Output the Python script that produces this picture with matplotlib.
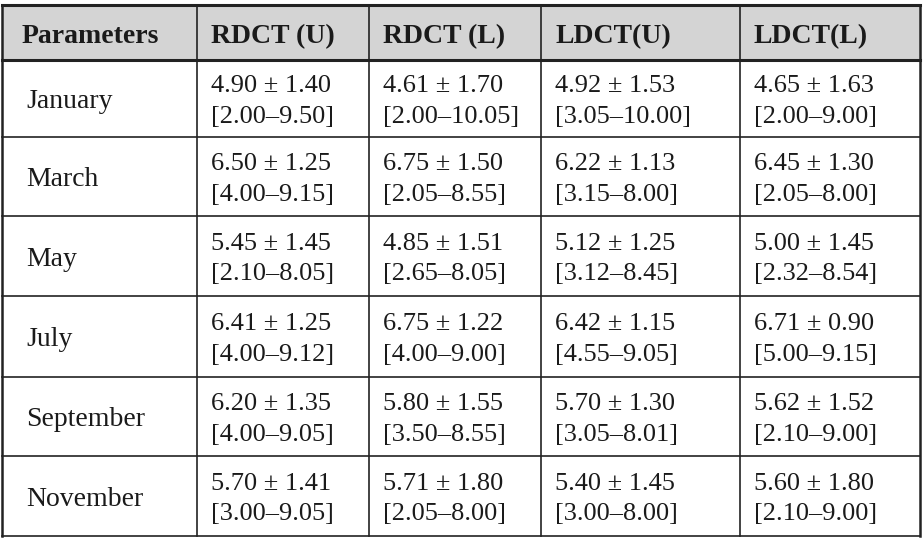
import matplotlib.pyplot as plt

headers = ["Parameters", "RDCT (U)", "RDCT (L)", "LDCT(U)", "LDCT(L)"]
months = ["January", "March", "May", "July", "September", "November"]
means = [
    ["4.90 ± 1.40", "4.61 ± 1.70", "4.92 ± 1.53", "4.65 ± 1.63"],
    ["6.50 ± 1.25", "6.75 ± 1.50", "6.22 ± 1.13", "6.45 ± 1.30"],
    ["5.45 ± 1.45", "4.85 ± 1.51", "5.12 ± 1.25", "5.00 ± 1.45"],
    ["6.41 ± 1.25", "6.75 ± 1.22", "6.42 ± 1.15", "6.71 ± 0.90"],
    ["6.20 ± 1.35", "5.80 ± 1.55", "5.70 ± 1.30", "5.62 ± 1.52"],
    ["5.70 ± 1.41", "5.71 ± 1.80", "5.40 ± 1.45", "5.60 ± 1.80"],
]
ranges = [
    ["[2.00–9.50]", "[2.00–10.05]", "[3.05–10.00]", "[2.00–9.00]"],
    ["[4.00–9.15]", "[2.05–8.55]", "[3.15–8.00]", "[2.05–8.00]"],
    ["[2.10–8.05]", "[2.65–8.05]", "[3.12–8.45]", "[2.32–8.54]"],
    ["[4.00–9.12]", "[4.00–9.00]", "[4.55–9.05]", "[5.00–9.15]"],
    ["[4.00–9.05]", "[3.50–8.55]", "[3.05–8.01]", "[2.10–9.00]"],
    ["[3.00–9.05]", "[2.05–8.00]", "[3.00–8.00]", "[2.10–9.00]"],
]

W, H = 924, 538
col_x = [2, 197, 369, 541, 740, 920]
row_y = [5, 60, 137, 216, 296, 377, 456, 536]

fig = plt.figure(figsize=(W / 100, H / 100), dpi=100)
ax = fig.add_axes([0, 0, 1, 1])
ax.set_xlim(0, W)
ax.set_ylim(H, 0)
ax.axis("off")
font = dict(family="Liberation Serif", fontsize=19, color="#1a1a1a")

ax.fill_between([col_x[0], col_x[-1]], row_y[0], row_y[1], color="#d4d4d4", zorder=0)
for x in col_x:
    ax.plot([x, x], [row_y[0], row_y[-1]], color="#222222", lw=1.2 if x not in (2, 920) else 1.8)
for i, y in enumerate(row_y):
    ax.plot([col_x[0], col_x[-1]], [y, y], color="#222222", lw=2.2 if i in (0, 1) else 1.2)

for j, h in enumerate(headers):
    ax.text(col_x[j] + (20 if j == 0 else 14), (row_y[0] + row_y[1]) / 2 + 1, h,
            va="center_baseline", ha="left", fontweight="bold",
            **{**font, "fontsize": 20})
for i, m in enumerate(months):
    yc = (row_y[i + 1] + row_y[i + 2]) / 2
    ax.text(col_x[0] + 24, yc, m, va="center_baseline", ha="left",
            **{**font, "fontsize": 20})
    for j in range(4):
        ax.text(col_x[j + 1] + 14, yc - 15, means[i][j], va="center_baseline", ha="left", **font)
        ax.text(col_x[j + 1] + 14, yc + 16, ranges[i][j], va="center_baseline", ha="left", **font)

fig.savefig("out.png", dpi=100)
